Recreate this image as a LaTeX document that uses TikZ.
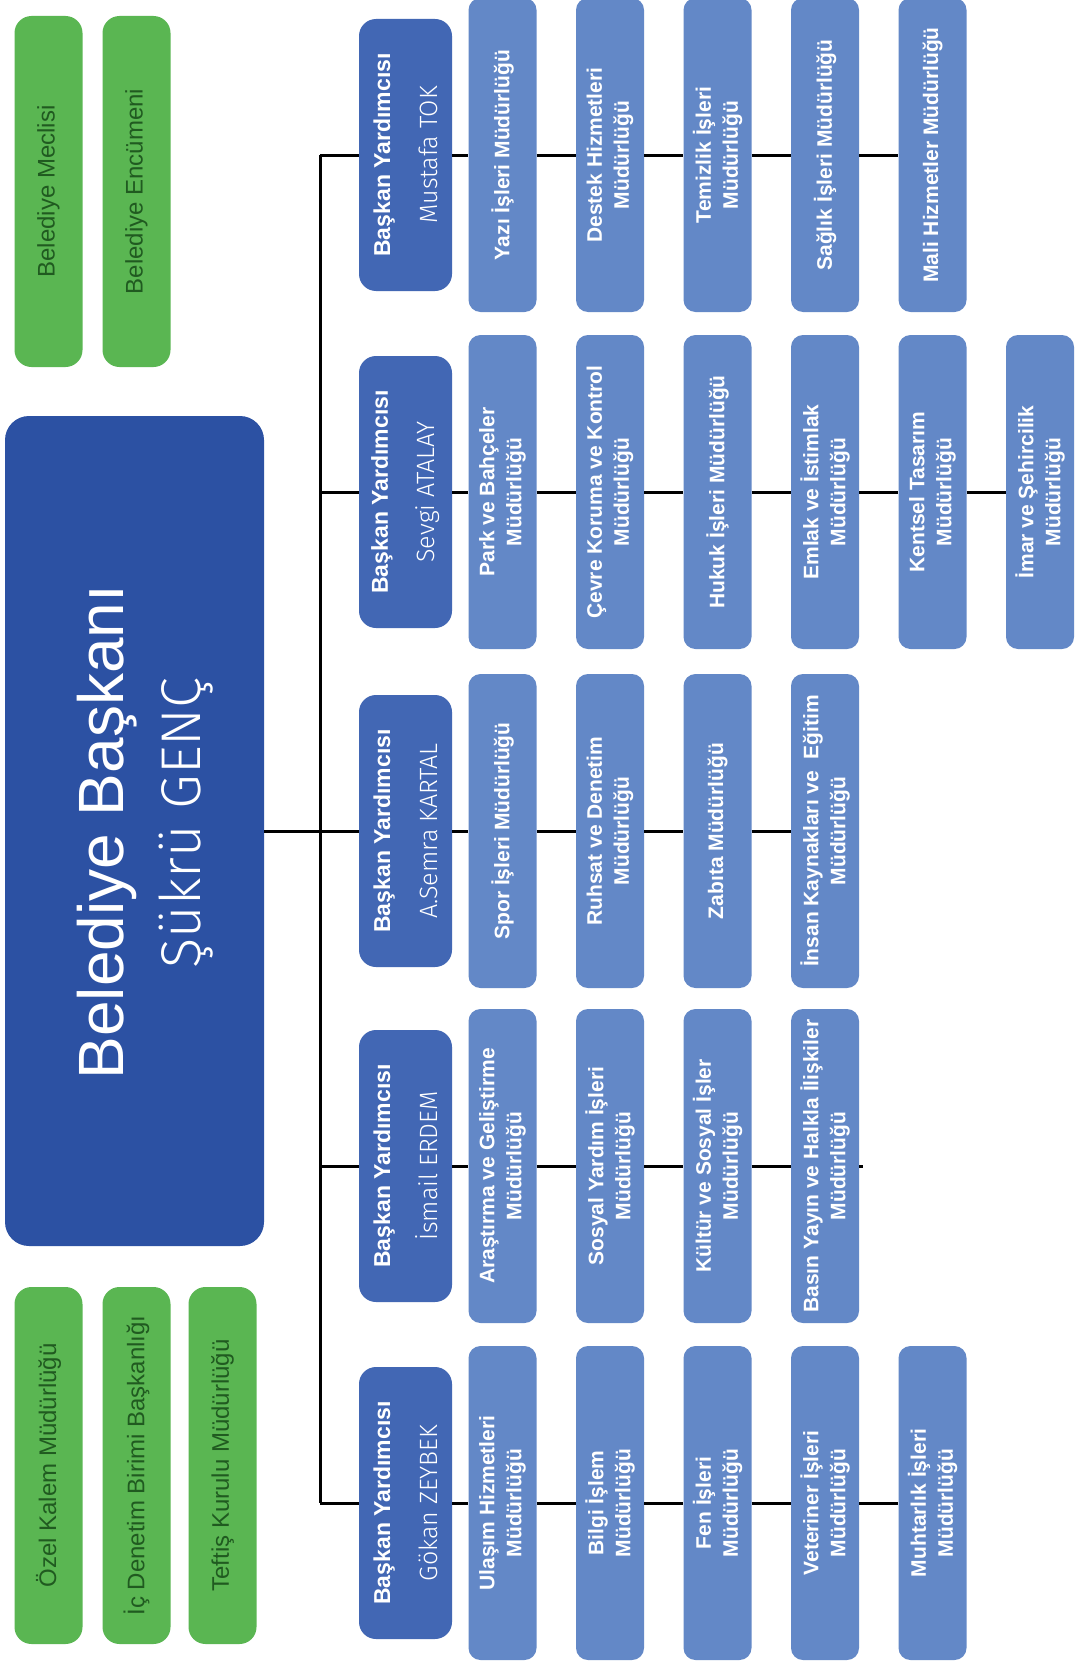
\documentclass[tikz,border=0pt]{standalone}
\usepackage{fontspec}
\setmainfont{Liberation Sans}
\newfontfamily\lightfont{Fira Sans}[UprightFont={* Light}]
\definecolor{mainblue}{RGB}{44,81,163}
\definecolor{depblue}{RGB}{66,103,180}
\definecolor{childblue}{RGB}{99,136,199}
\definecolor{boxgreen}{RGB}{90,182,82}
\definecolor{textgreen}{RGB}{32,90,32}
\tikzset{
  mainbox/.style={fill=mainblue, rounded corners=24pt, rotate=90, minimum width=830pt, minimum height=259pt, inner sep=0pt},
  maintext/.style={rotate=90, anchor=base, text=white, inner sep=0pt},
  depbox/.style={fill=depblue, rounded corners=17pt, rotate=90, minimum width=272pt, minimum height=93pt, inner sep=0pt, text=white, align=center, font=\fontsize{24}{47}\selectfont},
  childbox/.style={fill=childblue, rounded corners=12pt, rotate=90, minimum width=314pt, minimum height=68pt, inner sep=0pt, text=white, align=center, font=\fontsize{21}{27}\selectfont\bfseries},
  greenbox/.style={fill=boxgreen, rounded corners=17pt, rotate=90, minimum height=68pt, inner sep=0pt, text=textgreen, font=\fontsize{24}{28}\selectfont},
  conn/.style={draw=black, line width=3pt},
}
\newcommand{\deptitle}[1]{{\fontsize{23}{47}\selectfont\bfseries Başkan Yardımcısı}\\{\lightfont\fontsize{25}{47}\selectfont #1}}
\begin{document}
\begin{tikzpicture}[x=1pt,y=-1pt]
\clip (0,0) rectangle (1075,1675);
\fill[white] (0,0) rectangle (1075,1675);

% green boxes
\node[greenbox, minimum width=351pt] (meclis) at (48.5,191.5) {Belediye Meclisi};
\node[greenbox, minimum width=351pt] (encumen) at (136.5,191.5) {Belediye Encümeni};
\node[greenbox, minimum width=357pt] (ozel) at (48.5,1465.5) {Özel Kalem Müdürlüğü};
\node[greenbox, minimum width=357pt] (icden) at (136.5,1465.5) {İç Denetim Birimi Başkanlığı};
\node[greenbox, minimum width=357pt] (teftis) at (222.5,1465.5) {Teftiş Kurulu Müdürlüğü};

% main box
\node[mainbox] (main) at (134.5,831) {};
\node[maintext, font=\fontsize{64}{77}\selectfont] (maintitle) at (123,832) {Belediye Başkanı};
\node[maintext, font=\lightfont\fontsize{56}{77}\selectfont] (mainname) at (200,823) {Şükrü GENÇ};

% trunk coordinates
\coordinate (t1) at (320,155);
\coordinate (t2) at (320,492);
\coordinate (t3) at (320,831);
\coordinate (t4) at (320,1166);
\coordinate (t5) at (320,1503);

% deputies
\node[depbox] (d1) at (405.5,155) {\deptitle{Mustafa TOK}};
\node[depbox] (d2) at (405.5,492) {\deptitle{Sevgi ATALAY}};
\node[depbox] (d3) at (405.5,831) {\deptitle{A.Semra KARTAL}};
\node[depbox] (d4) at (405.5,1166) {\deptitle{İsmail ERDEM}};
\node[depbox] (d5) at (405.5,1503) {\deptitle{Gökan ZEYBEK}};

% row 1
\node[childbox] (c11) at (502.5,155) {Yazı İşleri Müdürlüğü};
\node[childbox] (c12) at (610,155) {Destek Hizmetleri\\Müdürlüğü};
\node[childbox] (c13) at (717.5,155) {Temizlik İşleri\\Müdürlüğü};
\node[childbox] (c14) at (825,155) {Sağlık İşleri Müdürlüğü};
\node[childbox] (c15) at (932.5,155) {Mali Hizmetler Müdürlüğü};
% row 2
\node[childbox] (c21) at (502.5,492) {Park ve Bahçeler\\Müdürlüğü};
\node[childbox] (c22) at (610,492) {Çevre Koruma ve Kontrol\\Müdürlüğü};
\node[childbox] (c23) at (717.5,492) {Hukuk İşleri Müdürlüğü};
\node[childbox] (c24) at (825,492) {Emlak ve İstimlak\\Müdürlüğü};
\node[childbox] (c25) at (932.5,492) {Kentsel Tasarım\\Müdürlüğü};
\node[childbox] (c26) at (1040,492) {İmar ve Şehircilik\\Müdürlüğü};
% row 3
\node[childbox] (c31) at (502.5,831) {Spor İşleri Müdürlüğü};
\node[childbox] (c32) at (610,831) {Ruhsat ve Denetim\\Müdürlüğü};
\node[childbox] (c33) at (717.5,831) {Zabıta Müdürlüğü};
\node[childbox] (c34) at (825,831) {İnsan Kaynakları ve~ Eğitim\\Müdürlüğü};
% row 4
\node[childbox] (c41) at (502.5,1166) {Araştırma ve Geliştirme\\Müdürlüğü};
\node[childbox] (c42) at (610,1166) {Sosyal Yardım İşleri\\Müdürlüğü};
\node[childbox] (c43) at (717.5,1166) {Kültür ve Sosyal İşler\\Müdürlüğü};
\node[childbox] (c44) at (825,1166) {Basın Yayın ve Halkla İlişkiler\\Müdürlüğü};
% row 5
\node[childbox] (c51) at (502.5,1503) {Ulaşım Hizmetleri\\Müdürlüğü};
\node[childbox] (c52) at (610,1503) {Bilgi İşlem\\Müdürlüğü};
\node[childbox] (c53) at (717.5,1503) {Fen İşleri\\Müdürlüğü};
\node[childbox] (c54) at (825,1503) {Veteriner İşleri\\Müdürlüğü};
\node[childbox] (c55) at (932.5,1503) {Muhtarlık İşleri\\Müdürlüğü};

% connectors
\draw[conn] (t1) -- (t5);
\draw[conn] (main) -- (t3);
\foreach \r in {1,...,5} { \draw[conn] (t\r) -- (d\r); \draw[conn] (d\r) -- (c\r1); }
\foreach \a/\b in {11/12,12/13,13/14,14/15,21/22,22/23,23/24,24/25,25/26,31/32,32/33,33/34,41/42,42/43,43/44,51/52,52/53,53/54,54/55}
  { \draw[conn] (c\a) -- (c\b); }
\draw[conn] (c44.south) -- ++(4,0);
\end{tikzpicture}
\end{document}
